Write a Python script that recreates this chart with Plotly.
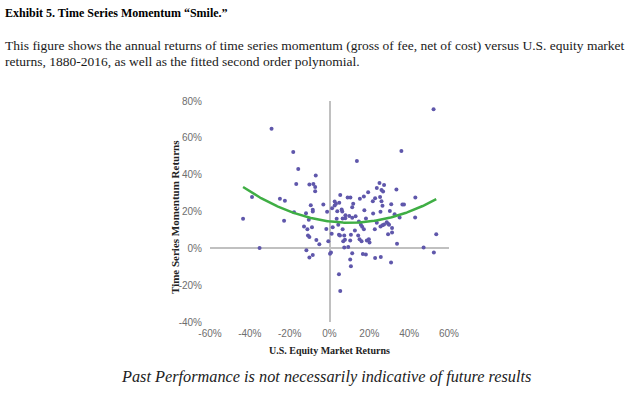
import numpy as np
import plotly.graph_objects as go

# U.S. equity market returns (%) and time series momentum returns (%), 1880-2016
equity_returns = [
    -29.1, -18.2, -15.7, -6.9, -16.7, -10.1, -8.1, -7.2, -7.2, -38.9,
    -24.9, -22.4, -9.4, -8.4, -8.4, -17.8, -11.8, -43.4, -22.8, -10.4,
    -12.8, -11.1, -8.8, -10.8, -10.1, -6.6, -5.1, -35.1, -11.6, -8.4,
    -10.1, -1.6, -0.6, 0.75, 0.25, 4.75, 5.4, -3.1, -1.2,
    52.25, 36.1, 13.75, 25.1, 27.4, 23.75, 26.1, 26.9, 33.6, 43.1,
    19.4, 17.25, 15.25, 9.1, 10.5, 5.4, 22.9, 25.4, 21.75, 26.1,
    26.6, 31.0, 36.6, 37.4, 11.9, 11.4, 4.9, 2.6, 3.25, 2.6,
    1.3, 6.1, 6.4, 3.9, 17.5, 21.9, 25.6, 30.3, 32.7, 35.2,
    43.0, 8.0, 7.9, 6.6, 9.9, 11.4, 13.1, 18.3, 3.6,
    14.75, 15.75, 16.4, 17.25, 12.75, 22.75, 23.75, 25.6, 26.6, 27.4,
    28.75, 29.4, 29.9, 31.4, 31.4, 29.4, 53.6, 10.75, 14.4, 10.4,
    15.1, 16.1, 18.75, 19.75, 20.1, 7.75, 9.4, 7.4, 6.9, 33.9,
    47.25, 1.6, 1.1, 4.4, 6.6, 4.75, 5.25, 7.4,
    52.4, 11.4, 16.75, 18.25, 22.9, 25.75, 30.9, 10.4, 10.75,
]
tsmom_returns = [
    64.9, 52.3, 43.1, 39.5, 35.0, 34.6, 35.0, 33.3, 31.0, 27.9,
    26.9, 25.8, 23.4, 20.9, 20.0, 19.6, 19.1, 16.1, 15.0, 15.5,
    11.9, 10.4, 11.5, 7.0, 6.1, 4.5, 2.2, 0.2, -1.1, -3.6,
    -5.0, 10.5, 3.8, -2.3, -2.9, -14.1, -23.2, 23.8, 19.8,
    75.5, 52.8, 47.4, 35.5, 34.4, 32.8, 31.7, 30.8, 31.9, 27.6,
    30.4, 28.1, 26.9, 27.6, 27.6, 29.0, 27.2, 27.9, 25.6, 25.6,
    23.1, 24.0, 23.8, 23.8, 24.2, 22.3, 24.7, 25.4, 24.2, 23.3,
    21.7, 21.1, 20.0, 20.2, 20.7, 18.9, 19.9, 20.3, 18.5, 16.8,
    16.8, 18.0, 16.4, 16.2, 17.5, 16.6, 17.4, 16.2, 16.0,
    14.6, 12.8, 11.7, 10.3, 9.7, 10.3, 13.9, 11.9, 12.6, 13.0,
    14.2, 13.4, 12.8, 11.0, 8.6, 7.6, 7.7, 7.4, 7.0, 4.3,
    4.9, 3.8, 4.3, 4.9, 3.2, 4.7, 0.7, 0.4, 3.8, 2.5,
    0.4, 11.5, 7.9, 12.8, 10.3, 7.4, 7.0, 7.0,
    -2.3, -2.7, -3.1, -3.4, -5.2, -4.7, -7.7, -6.1, -9.7,
]

x_ticks = [-60, -40, -20, 0, 20, 40, 60]
y_ticks = [-40, -20, 0, 20, 40, 60, 80]

x = np.array(equity_returns) / 100.0
y = np.array(tsmom_returns) / 100.0

# fitted second order polynomial
coef = np.polyfit(x, y, 2)
xf = np.linspace(x.min(), x.max(), 200)
yf = np.polyval(coef, xf)

W, H = 635, 396
L, R, T, B = 210, 449, 101, 322

def px(xp):
    return (xp - L) / (R - L)

def py(yp):
    return (B - yp) / (B - T)

fig = go.Figure()
fig.add_trace(go.Scatter(
    x=x, y=y, mode="markers",
    marker=dict(size=4, color="#5f57ab", symbol="circle"),
    hoverinfo="skip", showlegend=False,
))
fig.add_trace(go.Scatter(
    x=xf, y=yf, mode="lines",
    line=dict(color="#3fae44", width=2.5),
    hoverinfo="skip", showlegend=False,
))

tickfont = dict(family="Liberation Sans, Arial", size=10, color="#6e6e6e")
fig.update_xaxes(
    range=[-0.6, 0.6], tickvals=[v / 100 for v in x_ticks],
    ticktext=[f"{v}%" for v in x_ticks], showgrid=False,
    zeroline=True, zerolinecolor="#c0c0c0", zerolinewidth=1.5,
    showline=False, ticks="", tickfont=tickfont, ticklabelstandoff=4,
)
fig.update_yaxes(
    range=[-0.4, 0.8], tickvals=[v / 100 for v in y_ticks],
    ticktext=[f"{v}%" for v in y_ticks], showgrid=False,
    zeroline=True, zerolinecolor="#c0c0c0", zerolinewidth=1.5,
    showline=False, ticks="", tickfont=tickfont, ticklabelstandoff=7,
)

serif = "Liberation Serif, Times New Roman, serif"
annotations = [
    dict(text="<b>Exhibit 5. Time Series Momentum \u201cSmile.\u201d</b>",
         x=px(3), y=py(13), xanchor="left", yanchor="middle",
         font=dict(family=serif, size=12, color="#000000")),
    dict(text="This figure shows the annual returns of time series momentum (gross of fee, net of cost) versus U.S. equity market",
         x=px(3), y=py(45), xanchor="left", yanchor="middle",
         font=dict(family=serif, size=13.5, color="#1a1a1a")),
    dict(text="returns, 1880-2016, as well as the fitted second order polynomial.",
         x=px(3), y=py(62), xanchor="left", yanchor="middle",
         font=dict(family=serif, size=13.5, color="#1a1a1a")),
    dict(text="<b>Time Series Momentum Returns</b>", textangle=-90,
         x=px(175), y=py(217), xanchor="center", yanchor="middle",
         font=dict(family=serif, size=11, color="#222222")),
    dict(text="<b>U.S. Equity Market Returns</b>",
         x=px(329), y=py(350), xanchor="center", yanchor="middle",
         font=dict(family=serif, size=10, color="#222222")),
    dict(text="<i>Past Performance is not necessarily indicative of future results</i>",
         x=px(326), y=py(376), xanchor="center", yanchor="middle",
         font=dict(family=serif, size=16.3, color="#222222")),
]
for a in annotations:
    a.update(xref="paper", yref="paper", showarrow=False)

fig.update_layout(
    width=W, height=H,
    margin=dict(l=L, r=W - R, t=T, b=H - B, pad=0),
    paper_bgcolor="white", plot_bgcolor="white",
    annotations=annotations, showlegend=False,
)

fig.write_html("out.html", config={"displayModeBar": False},
               post_script="document.body.style.margin='0';")
